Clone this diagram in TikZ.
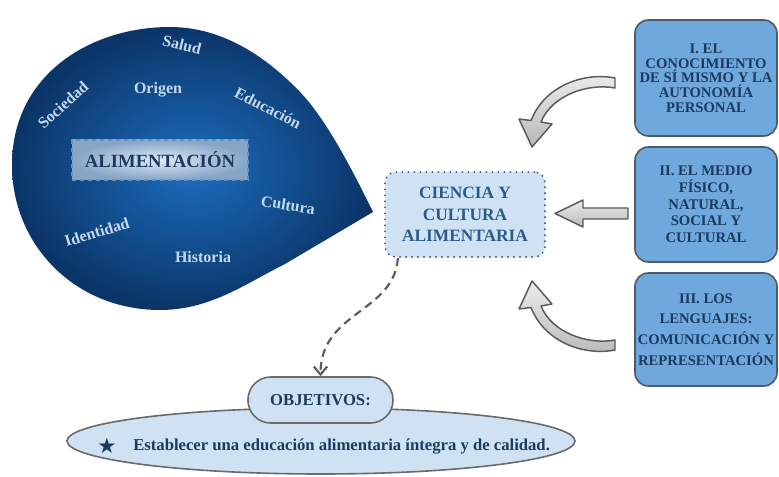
\documentclass[tikz,border=0pt]{standalone}
\usepackage{fontspec}
\setmainfont{Liberation Serif}
\newfontfamily\symfont{DejaVu Sans}
\usetikzlibrary{shapes.geometric,arrows.meta,shadings}
\definecolor{blobIn}{HTML}{1C6DBE}
\definecolor{blobOut}{HTML}{0B3568}
\definecolor{blobTxt}{HTML}{C4D8EE}
\definecolor{navyTxt}{HTML}{1D3A5F}
\definecolor{midTxt}{HTML}{2A5B8C}
\definecolor{paleBlue}{HTML}{CFE2F3}
\definecolor{boxBlue}{HTML}{6FA8DC}
\definecolor{boxLine}{HTML}{4F5B66}
\definecolor{arrLine}{HTML}{5A5A5A}
\definecolor{alimLine}{HTML}{6F8FB5}
\definecolor{alimIn}{HTML}{DCE8F4}
\definecolor{alimOut}{HTML}{86A6C8}
\definecolor{dotLine}{HTML}{4A5A70}
\definecolor{pillLine}{HTML}{6A6A6A}
\tikzset{
  blobword/.style={text=blobTxt, font=\bfseries\fontsize{12}{14}\selectfont, inner sep=0pt},
  rbox/.style={draw=boxLine, line width=1.2pt, fill=boxBlue, rounded corners=10pt,
    minimum width=106.5pt, align=center, text=navyTxt, inner sep=2pt},
  blockarrow/.style={draw=arrLine, line width=1.1pt, top color=gray!15, bottom color=gray!55, line join=round},
  paleshape/.style={draw=pillLine, line width=1.2pt, fill=paleBlue},
}
\begin{document}
\begin{tikzpicture}[x=0.75pt,y=-0.75pt]
\useasboundingbox (0,0) rectangle (779,477);
\fill[white] (0,0) rectangle (779,477);

% teardrop
\shade[inner color=blobIn, outer color=blobOut]
  (373,212) .. controls (350,165) and (325,118) .. (300,92)
  .. controls (275,66) and (230,27) .. (170,27)
  .. controls (90,27) and (12,75) .. (12,165)
  .. controls (12,245) and (75,310) .. (160,310)
  .. controls (210,310) and (245,284) .. (285,264) -- cycle;

\node[blobword, rotate=-14] (salud) at (182,45) {Salud};
\node[blobword] (origen) at (158,90) {Origen};
\node[blobword, rotate=42] (soc) at (63,105) {Sociedad};
\node[blobword, rotate=-27] (edu) at (268,108) {Educación};
\node[blobword, rotate=-9] (cult) at (288,205) {Cultura};
\node[blobword, rotate=17] (ident) at (97,232) {Identidad};
\node[blobword] (hist) at (203,257) {Historia};

\node[shade, inner color=alimIn, outer color=alimOut, draw=alimLine, dashed, line width=0.9pt,
  minimum width=132pt, minimum height=30pt, inner sep=0pt, text=navyTxt,
  font=\bfseries\fontsize{14}{16}\selectfont] (alim) at (160,160) {ALIMENTACIÓN};

% centre box
\node[draw=dotLine, line width=1.6pt, dash pattern=on 0pt off 4.5pt, line cap=round,
  fill=paleBlue, rounded corners=8pt, minimum width=120pt, minimum height=63.75pt,
  align=center, text=midTxt, font=\bfseries\fontsize{13}{16}\selectfont] (cc) at (465,214.5)
  {CIENCIA Y\\CULTURA\\ALIMENTARIA};

% right boxes
\node[rbox, minimum height=87pt, font=\bfseries\fontsize{11}{11}\selectfont] (b1) at (706,78)
  {I. EL\\CONOCIMIENTO\\DE SÍ MISMO Y LA\\AUTONOMÍA\\PERSONAL};
\node[rbox, minimum height=86.25pt, font=\bfseries\fontsize{11}{12.5}\selectfont] (b2) at (706,204.5)
  {II. EL MEDIO\\FÍSICO,\\NATURAL,\\SOCIAL Y\\CULTURAL};
\node[rbox, minimum height=84.75pt, font=\bfseries\fontsize{11}{15.5}\selectfont] (b3) at (706,329.5)
  {III. LOS\\LENGUAJES:\\COMUNICACIÓN Y\\REPRESENTACIÓN};

% block arrows
\path[blockarrow] (615,78) .. controls (585,72) and (545,85) .. (531,120.5)
  -- (519,119) -- (532,147) -- (552,124) -- (541,122)
  .. controls (552,95) and (588,83) .. (615,88) -- cycle;
\path[blockarrow] (628,208) -- (583,208) -- (583,200) -- (555,213.5) -- (583,227)
  -- (583,219) -- (628,219) -- cycle;
\path[blockarrow] (615,350) .. controls (585,356) and (545,343) .. (531,307.5)
  -- (519,309) -- (532,281) -- (552,304) -- (541,306)
  .. controls (552,333) and (588,345) .. (615,340) -- cycle;

% objectives
\node[paleshape, ellipse, minimum width=381pt, minimum height=49.5pt, inner sep=0pt] (goal) at (321,441) {};
\node[paleshape, rounded corners=17pt, minimum width=108.75pt, minimum height=34.5pt,
  text=navyTxt, font=\bfseries\fontsize{12.5}{14}\selectfont] (obj) at (320.5,400) {OBJETIVOS:};
\node[text=navyTxt, font=\symfont\fontsize{16}{18}\selectfont, inner sep=0pt] (star) at (107,446) {★};
\node[text=navyTxt, font=\bfseries\fontsize{12.5}{14}\selectfont, anchor=west, inner sep=0pt] (goaltxt) at (133,447)
  {Establecer una educación alimentaria íntegra y de calidad.};

% dashed connector
\draw[arrLine, line width=1.6pt, dash pattern=on 6pt off 4pt, -{Straight Barb[length=6pt,width=10pt]}]
  (cc.213) .. controls +(-4,55) and +(0,-65) .. (obj.north);
\end{tikzpicture}
\end{document}
